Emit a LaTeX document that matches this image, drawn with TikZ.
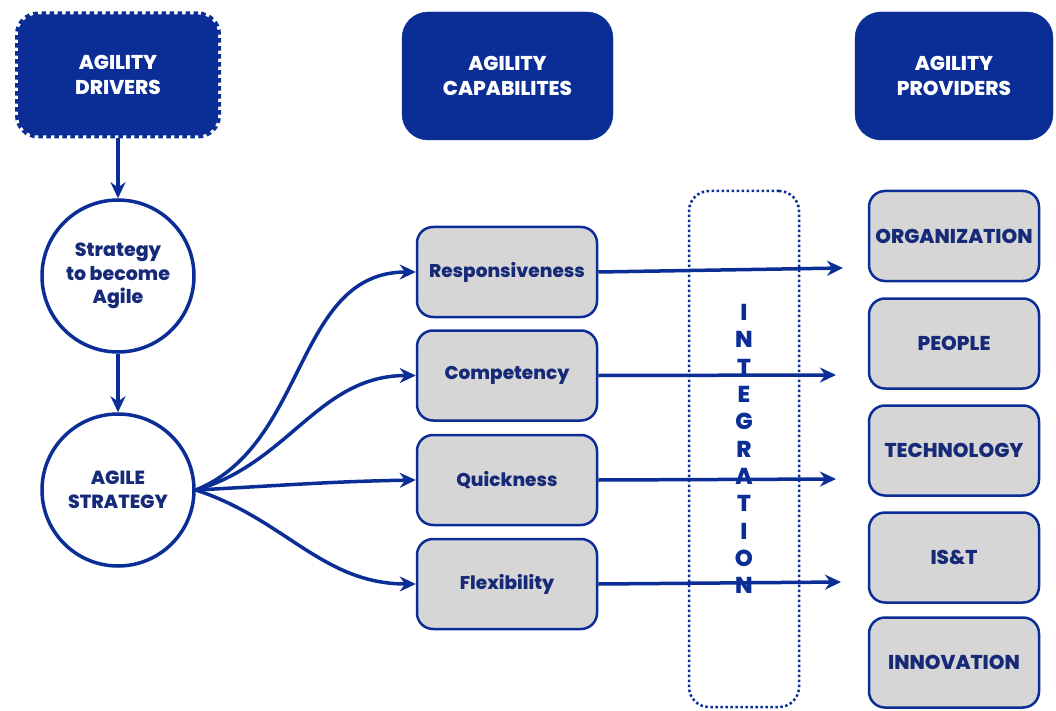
\documentclass[tikz,border=0pt]{standalone}
\usepackage{fontspec}
\setmainfont{Poppins}[BoldFont={Poppins ExtraBold}]
\usepackage{tikz}
\usetikzlibrary{shapes,arrows,arrows.meta}
\definecolor{agblue}{RGB}{10,45,150}
\definecolor{agtext}{RGB}{22,42,120}
\definecolor{aggray}{RGB}{214,214,214}
\tikzstyle{invis} = [draw=none]
\tikzstyle{head} = [draw=agblue, fill=agblue, rounded corners=26pt, text=white, align=center, font=\bfseries\fontsize{20}{25}\selectfont]
\tikzstyle{headdash} = [head, line width=6pt, dash pattern=on 4.5pt off 3.5pt, rounded corners=20pt]
\tikzstyle{stage} = [draw=agblue, circle, line width=3.5pt, minimum size=152pt, text=agtext, align=center, font=\bfseries\fontsize{19}{23.5}\selectfont]
\tikzstyle{capab} = [draw=agblue, fill=aggray, rounded corners=16pt, line width=2.5pt, minimum width=180pt, minimum height=90pt, text=agtext, font=\bfseries\fontsize{18.5}{23}\selectfont]
\tikzstyle{prov} = [capab, minimum width=170pt, font=\bfseries\fontsize{20}{24}\selectfont]
\tikzstyle{link} = [-{Stealth[length=16pt,width=15pt]}, draw=agblue, line width=3.5pt]

\begin{document}
\begin{tikzpicture}[x=1pt,y=-1pt]

    \useasboundingbox (0,0) rectangle (1056,711);

    \node[headdash, minimum width=200pt, minimum height=121pt] at (118,75) (drivers) [] {AGILITY\\DRIVERS};
    \node[head, minimum width=211pt, minimum height=128pt] at (507.5,76) (capabs) [] {AGILITY\\CAPABILITES};
    \node[head, minimum width=198pt, minimum height=128pt] at (954,76) (provs) [] {AGILITY\\PROVIDERS};

    %=====================

    \node[stage] at (118,276) (become) [] {Strategy\\to become\\Agile};
    \node[stage] at (118,490) (strat) [] {AGILE\\STRATEGY};

    \path
    (drivers) edge [link] node {} (become)
    (become) edge [link] node {} (strat);

    %=====================

    \node[capab] at (507,272) (resp) [] {Responsiveness};
    \node[capab] at (507,375.5) (comp) [] {Competency};
    \node[capab] at (507,480) (quick) [] {Quickness};
    \node[capab] at (507,584) (flex) [] {Flexibility};

    \path
    (strat.east) edge [link, out=22, in=180] node {} (resp.west)
    (strat.east) edge [link, out=16, in=180] node {} (comp.west)
    (strat.east) edge [link, out=3, in=181] node {} (quick.west)
    (strat.east) edge [link, out=-18, in=180] node {} (flex.west);

    %=====================

    \node[draw=agblue, rounded corners=20pt, line width=2.5pt, dash pattern=on 2.5pt off 2.5pt, minimum width=110pt, minimum height=516pt,
          text=agblue, align=center, font=\bfseries\fontsize{23}{27.3}\selectfont]
          at (744,449) (integ) [] {I\\N\\T\\E\\G\\R\\A\\T\\I\\O\\N};

    \node[prov] at (954,236) (org) [] {ORGANIZATION};
    \node[prov] at (954,343.5) (people) [] {PEOPLE};
    \node[prov] at (954,450.5) (tech) [] {TECHNOLOGY};
    \node[prov] at (954,557.5) (ist) [] {IS\&T};
    \node[prov] at (954,662.5) (innov) [] {INNOVATION};

    \coordinate (re) at (843,268);
    \coordinate (ce) at (836,375);
    \coordinate (qe) at (836,479);
    \coordinate (fe) at (841,582);

    \path
    (resp.east) edge [link] node {} (re)
    (comp.east) edge [link] node {} (ce)
    (quick.east) edge [link] node {} (qe)
    (flex.east) edge [link] node {} (fe);

\end{tikzpicture}
\end{document}
